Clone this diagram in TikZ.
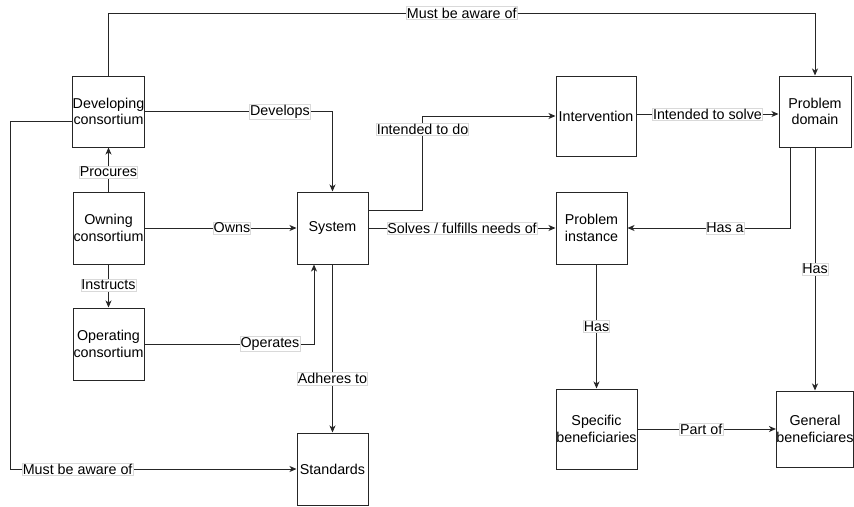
\documentclass[tikz,border=0pt]{standalone}
\usepackage{fontspec}
\setmainfont{Liberation Sans}
\usetikzlibrary{arrows.meta}
\begin{document}
\begin{tikzpicture}[x=1pt,y=-1pt,
  box/.style={draw=black!85,line width=1pt,inner sep=0pt,align=center,
    font=\fontsize{14.3}{16.7}\selectfont},
  lbl/.style={fill=white,draw=black!15,line width=0.5pt,inner xsep=0.5pt,inner ysep=1pt,
    font=\fontsize{14.3}{16.7}\selectfont,text=black},
  arr/.style={draw=black!85,line width=1pt,-{Stealth[length=7pt,width=6pt,inset=2pt]}}]
\useasboundingbox (0,0) rectangle (854,506);
% nodes
\node[box,minimum width=71,minimum height=71] (dev) at (108.5,111.5) {Developing\\consortium};
\node[box,minimum width=71,minimum height=72] (own) at (108.5,228) {Owning\\consortium};
\node[box,minimum width=71,minimum height=72] (ope) at (108.5,344) {Operating\\consortium};
\node[box,minimum width=71,minimum height=72] (sys) at (332.5,228) {System};
\node[box,minimum width=71,minimum height=72] (std) at (332.5,469) {Standards};
\node[box,minimum width=80,minimum height=80] (int) at (596,116) {Intervention};
\node[box,minimum width=72,minimum height=71] (pd) at (815,111.5) {Problem\\domain};
\node[box,minimum width=71,minimum height=72] (pi) at (591.5,228) {Problem\\instance};
\node[box,minimum width=81,minimum height=80] (sb) at (596.5,429) {Specific\\beneficiaries};
\node[box,minimum width=72,minimum height=76] (gb) at (815,429) {General\\beneficiares};
% helper coordinates
\coordinate (top) at (0,13);
\coordinate (lft) at (10,121);
% connectors
\draw[arr] (dev.north) -- (dev.north |- top) -- node[lbl]{Must be aware of} (pd.north |- top) -- (pd.north);
\draw[arr] (dev.east) -- node[lbl,pos=0.72]{Develops} (sys.north |- dev.east) -- (sys.north);
\draw[arr] ([yshift=-9.5pt]dev.west) -- (lft) |- node[lbl,pos=0.618]{Must be aware of} (std.west);
\draw[arr] (own.north) -- node[lbl,pos=0.44]{Procures} (dev.south);
\draw[arr] (own.east) -- node[lbl,pos=0.575]{Owns} (sys.west);
\draw[arr] (own.south) -- node[lbl,pos=0.48]{Instructs} (ope.north);
\draw[arr] (ope.east) -| node[lbl,pos=0.37]{Operates} ([xshift=-18.5pt]sys.south);
\draw[arr] (sys.south) -- node[lbl,pos=0.68]{Adheres to} (std.north);
\draw[arr] ([yshift=18pt]sys.east) -- ++(54,0) |- node[lbl,pos=0.43]{Intended to do} (int.west);
\draw[arr] (sys.east) -- node[lbl]{Solves / fulfills needs of} (pi.west);
\draw[arr] ([yshift=2pt]int.east) -- node[lbl]{Intended to solve} ([yshift=2pt]int.east -| pd.west);
\draw[arr] ([xshift=-25pt]pd.south) |- node[lbl,pos=0.70]{Has a} (pi.east);
\draw[arr] (pd.south) -- node[lbl,pos=0.5]{Has} (gb.north);
\draw[arr] (sb.north |- pi.south) -- node[lbl]{Has} (sb.north);
\draw[arr] (sb.east) -- node[lbl,pos=0.46]{Part of} (gb.west);
\end{tikzpicture}
\end{document}
